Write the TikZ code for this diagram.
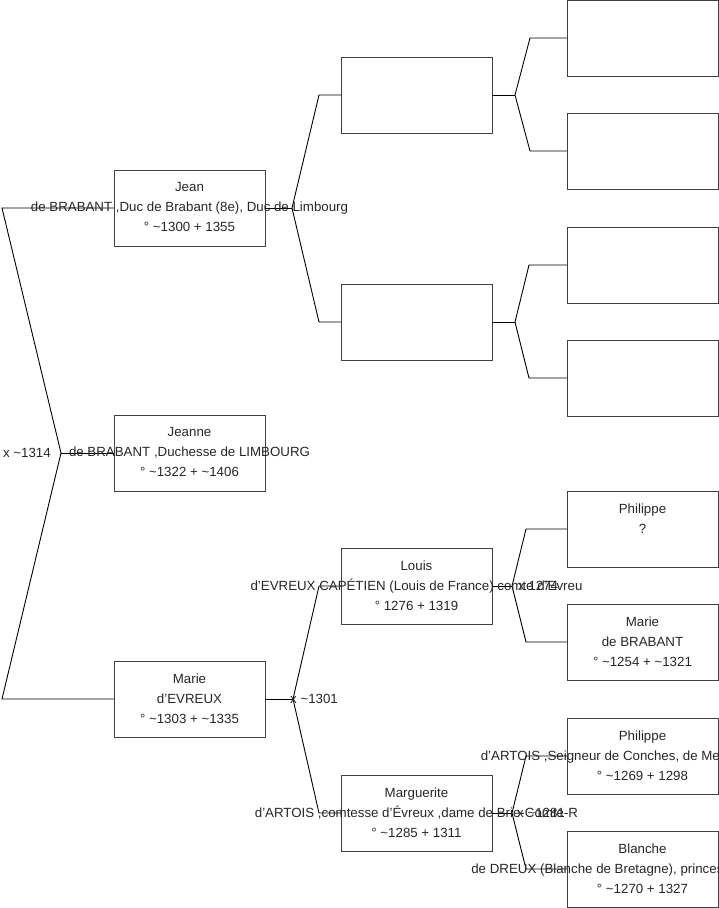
\documentclass[tikz,border=0pt]{standalone}
\usepackage{fontspec}
\setmainfont{Liberation Sans}
\begin{document}
\begin{tikzpicture}[x=1pt,y=-1pt,
  pbox/.style={draw=black!75,line width=1pt,minimum width=151pt,minimum height=76pt,inner sep=0pt,outer sep=0pt},
  ptxt/.style={font=\fontsize{13.3}{20}\selectfont,align=center,inner sep=0pt,anchor=north,text=black!85},
  mlab/.style={font=\fontsize{13.3}{20}\selectfont,inner sep=0pt,text=black!85},
  conn/.style={draw=black,line width=0.9pt}]
\useasboundingbox (0,0) rectangle (719,908);
% column 1
\node[pbox] (jean) at (189.5,208) {};
\node[pbox] (jeanne) at (189.5,453) {};
\node[pbox] (marie) at (189.5,699) {};
% column 2
\node[pbox] (a) at (416.5,95) {};
\node[pbox] (b) at (416.5,322) {};
\node[pbox] (louis) at (416.5,586) {};
\node[pbox] (marg) at (416.5,813) {};
% column 3
\node[pbox] (aa) at (642.5,38) {};
\node[pbox] (ab) at (642.5,151) {};
\node[pbox] (ba) at (642.5,265) {};
\node[pbox] (bb) at (642.5,378) {};
\node[pbox] (phil) at (642.5,529) {};
\node[pbox] (marieb) at (642.5,642) {};
\node[pbox] (phila) at (642.5,756) {};
\node[pbox] (blanche) at (642.5,869) {};
% connectors
\coordinate (fL) at (61,453);
\coordinate (lt) at (2,208);
\coordinate (lb) at (2,699);
\draw[conn] (jeanne.west) -- (fL);
\draw[conn] (jean.west) -- (lt) -- (fL) -- (lb) -- (marie.west);
\coordinate (fJ) at (292,208);
\draw[conn] (jean.east) -- (fJ);
\draw[conn] (a.west) -- ([xshift=-22pt]a.west) -- (fJ) -- ([xshift=-22pt]b.west) -- (b.west);
\coordinate (fA) at (515,95);
\draw[conn] (a.east) -- (fA);
\draw[conn] (aa.west) -- ([xshift=-37pt]aa.west) -- (fA) -- ([xshift=-37pt]ab.west) -- (ab.west);
\coordinate (fB) at (515,322);
\draw[conn] (b.east) -- (fB);
\draw[conn] (ba.west) -- ([xshift=-38pt]ba.west) -- (fB) -- ([xshift=-38pt]bb.west) -- (bb.west);
\coordinate (fM) at (293,699);
\draw[conn] (marie.east) -- (fM);
\draw[conn] (louis.west) -- ([xshift=-22pt]louis.west) -- (fM) -- ([xshift=-22pt]marg.west) -- (marg.west);
\coordinate (fLo) at (512,586);
\draw[conn] (louis.east) -- (fLo);
\draw[conn] (phil.west) -- ([xshift=-41pt]phil.west) -- (fLo) -- ([xshift=-41pt]marieb.west) -- (marieb.west);
\coordinate (fMa) at (512,813);
\draw[conn] (marg.east) -- (fMa);
\draw[conn] (phila.west) -- ([xshift=-41pt]phila.west) -- (fMa) -- ([xshift=-41pt]blanche.west) -- (blanche.west);
% texts
\node[ptxt] (jeanT) at ([yshift=-12.5pt]jean.north) {Jean\\de BRABANT ,Duc de Brabant (8e), Duc de Limbourg\\° \textasciitilde1300 + 1355};
\node[ptxt] (jeanneT) at ([yshift=-12.5pt]jeanne.north) {Jeanne\\de BRABANT ,Duchesse de LIMBOURG\\° \textasciitilde1322 + \textasciitilde1406};
\node[ptxt] (marieT) at ([yshift=-12.5pt]marie.north) {Marie\\d'EVREUX\\° \textasciitilde1303 + \textasciitilde1335};
\node[ptxt] (louisT) at ([yshift=-12.5pt]louis.north) {Louis\\d'EVREUX CAPÉTIEN (Louis de France) comte d'Evreu\\° 1276 + 1319};
\node[ptxt] (margT) at ([yshift=-12.5pt]marg.north) {Marguerite\\d'ARTOIS ,comtesse d'Évreux ,dame de Brie-Comte-R\\° \textasciitilde1285 + 1311};
\node[ptxt] (philT) at ([yshift=-12.5pt]phil.north) {Philippe\\?};
\node[ptxt] (mariebT) at ([yshift=-12.5pt]marieb.north) {Marie\\de BRABANT\\° \textasciitilde1254 + \textasciitilde1321};
\node[ptxt] (philaT) at ([yshift=-12.5pt]phila.north) {Philippe\\d'ARTOIS ,Seigneur de Conches, de Mehun-sur-Yèvre\\° \textasciitilde1269 + 1298};
\node[ptxt] (blancheT) at ([yshift=-12.5pt]blanche.north) {Blanche\\de DREUX (Blanche de Bretagne), princesse de Bretagne\\° \textasciitilde1270 + 1327};
% marriage labels
\node[mlab,anchor=east] (m1) at ([xshift=-10pt]fL) {x \textasciitilde1314};
\node[mlab,anchor=west] (m2) at ([xshift=-3pt]fM) {x \textasciitilde1301};
\node[mlab,anchor=west] (m3) at ([xshift=6pt]fLo) {x 1274};
\node[mlab,anchor=west] (m4) at ([xshift=5pt]fMa) {x \textasciitilde1281};
\end{tikzpicture}
\end{document}
